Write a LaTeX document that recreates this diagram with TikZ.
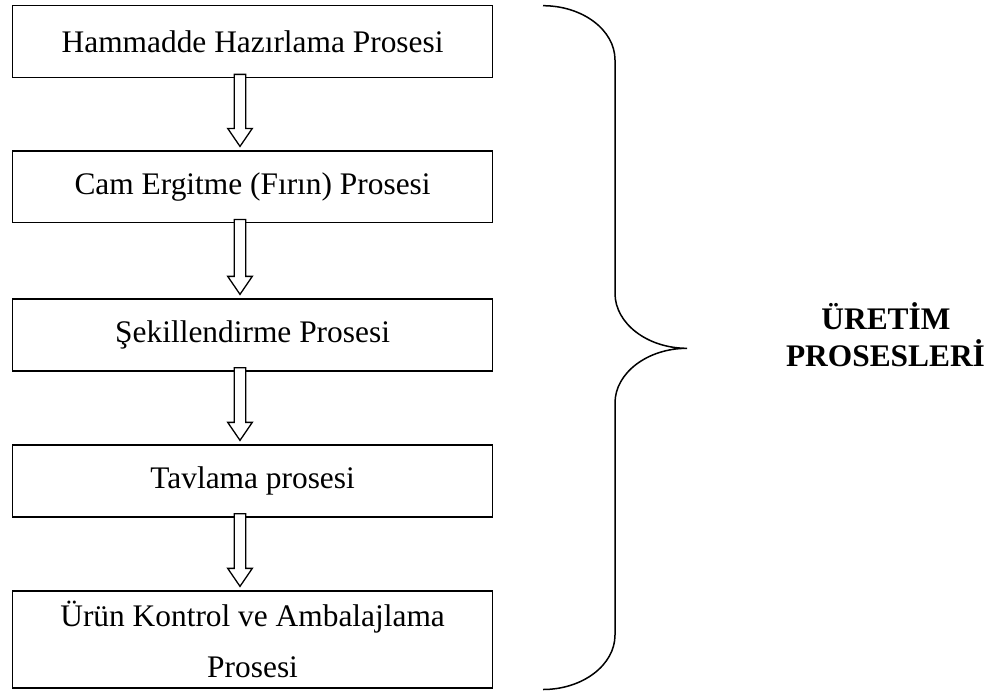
\documentclass[tikz,border=0pt]{standalone}
\usepackage{fontspec}
\setmainfont{Liberation Serif}
\usetikzlibrary{calc}
\begin{document}
\begin{tikzpicture}[x=1pt,y=-1pt,
  procbox/.style={draw=black,line width=1.3pt,fill=white,inner sep=0pt,
    minimum width=479.8pt,align=center,font=\fontsize{31.4}{51}\selectfont},
  barrow/.style={draw=black,line width=1.3pt,fill=white,line join=miter},
  bracestyle/.style={draw=black,line width=1.5pt},
  lbl/.style={anchor=base,inner sep=0pt,font=\fontsize{31.4}{37}\selectfont\bfseries}]
\useasboundingbox (0,0) rectangle (993,691);
\node[procbox,minimum height=72pt] (b1) at (252.6,41.7) {Hammadde Hazırlama Prosesi};
\node[procbox,minimum height=71.7pt] (b2) at (252.6,186.9) {Cam Ergitme (Fırın) Prosesi};
\node[procbox,minimum height=72pt] (b3) at (252.6,335) {Şekillendirme Prosesi};
\node[procbox,minimum height=72pt] (b4) at (252.6,481) {Tavlama prosesi};
\node[procbox,minimum height=97pt] (b5) at (252.6,639.5) {Ürün Kontrol ve Ambalajlama\\Prosesi};
\coordinate (ax) at (240,0);
\newcommand\blockarrow[2]{%
  \draw[barrow] ($(#1.south -| ax)+(-5.7,-4)$) -- ($(#2.north -| ax)+(-5.7,-22)$)
    -- ($(#2.north -| ax)+(-12.3,-22)$) -- ($(#2.north -| ax)+(0,-4)$)
    -- ($(#2.north -| ax)+(12.3,-22)$) -- ($(#2.north -| ax)+(5.7,-22)$)
    -- ($(#1.south -| ax)+(5.7,-4)$) -- cycle;}
\blockarrow{b1}{b2}
\blockarrow{b2}{b3}
\blockarrow{b3}{b4}
\blockarrow{b4}{b5}
\coordinate (bt) at (543,5.7);
\coordinate (bm) at (687,348.3);
\coordinate (bb) at (543,689.5);
\draw[bracestyle] (bt) .. controls (582.6,5.7) and (615,30) .. (615,60)
  -- (615,293.3) .. controls (615,323.5) and (647.4,348.3) .. (bm)
  .. controls (647.4,348.3) and (615,373) .. (615,403)
  -- (615,635) .. controls (615,665) and (582.6,689.5) .. (bb);
\node[lbl] (l1) at (886,329.3) {ÜRETİM};
\node[lbl] (l2) at (885.5,366) {PROSESLERİ};
\end{tikzpicture}
\end{document}
